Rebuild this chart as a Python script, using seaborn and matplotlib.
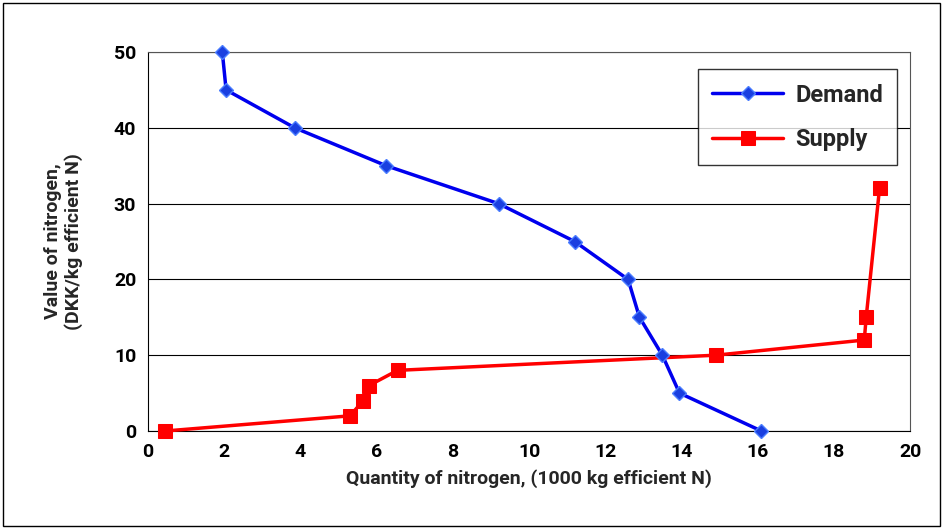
import matplotlib
matplotlib.use("Agg")
import matplotlib.pyplot as plt
import seaborn as sns
import pandas as pd
from matplotlib.patches import Rectangle

demand_x = [1.95, 2.05, 3.85, 6.25, 9.2, 11.2, 12.6, 12.9, 13.5, 13.95, 16.1]
demand_y = [50, 45, 40, 35, 30, 25, 20, 15, 10, 5, 0]
supply_x = [0.45, 5.3, 5.65, 5.8, 6.55, 14.9, 18.8, 18.85, 18.85, 19.2]
supply_y = [0, 2, 4, 6, 8, 10, 12, 14, 16, 32]

sns.set_style("white")
plt.rcParams['font.family'] = ['Roboto', 'DejaVu Sans']
plt.rcParams['font.weight'] = 'bold'

fig = plt.figure(figsize=(9.43, 5.28), dpi=100)
ax = fig.add_axes([148 / 943, 1 - 431 / 528, (910 - 148) / 943, (431 - 52) / 528])

df_d = pd.DataFrame({"x": demand_x, "y": demand_y})
df_s = pd.DataFrame({"x": supply_x, "y": supply_y})
sns.lineplot(data=df_d, x="x", y="y", sort=False, color="#0000ee", lw=2.5,
             marker="D", markersize=7, markerfacecolor="#1a3fe0",
             markeredgecolor="#4a7dff", markeredgewidth=1, label="Demand", ax=ax,
             clip_on=False, zorder=4)
sns.lineplot(data=df_s, x="x", y="y", sort=False, color="#ff0000", lw=2.5,
             marker="s", markersize=10, markerfacecolor="#ff0000",
             markeredgecolor="#ff0000", label="Supply", ax=ax, clip_on=False, zorder=3)

ax.set_xlim(0, 20)
ax.set_ylim(0, 50)
ax.set_xticks(range(0, 21, 2))
ax.set_yticks(range(0, 51, 10))
ax.yaxis.grid(True, color="black", lw=0.8)
ax.set_axisbelow(True)
for s in ax.spines.values():
    s.set_color("#555555")
    s.set_linewidth(0.8)
ax.spines['left'].set_color("black")
ax.spines['bottom'].set_color("black")
ax.tick_params(axis="both", direction="out", length=5, width=0.8, colors="black",
               labelsize=14)
ax.set_xlabel("Quantity of nitrogen, (1000 kg efficient N)", fontsize=14, fontweight="bold",
              labelpad=6)
ax.set_ylabel("Value of nitrogen,\n(DKK/kg efficient N)", fontsize=14, fontweight="bold",
              labelpad=22)

leg = ax.legend(loc="upper right", bbox_to_anchor=(0.9985, 0.985), frameon=True,
                fancybox=False, edgecolor="black", prop={"weight": "bold", "size": 17},
                handlelength=3, borderpad=0.6, labelspacing=0.9, handletextpad=0.5)
leg.get_frame().set_linewidth(1)

fig.patches.append(Rectangle((0.003, 0.004), 0.994, 0.99, transform=fig.transFigure,
                             fill=False, edgecolor="black", lw=1))
fig.savefig("out.png", dpi=100)
